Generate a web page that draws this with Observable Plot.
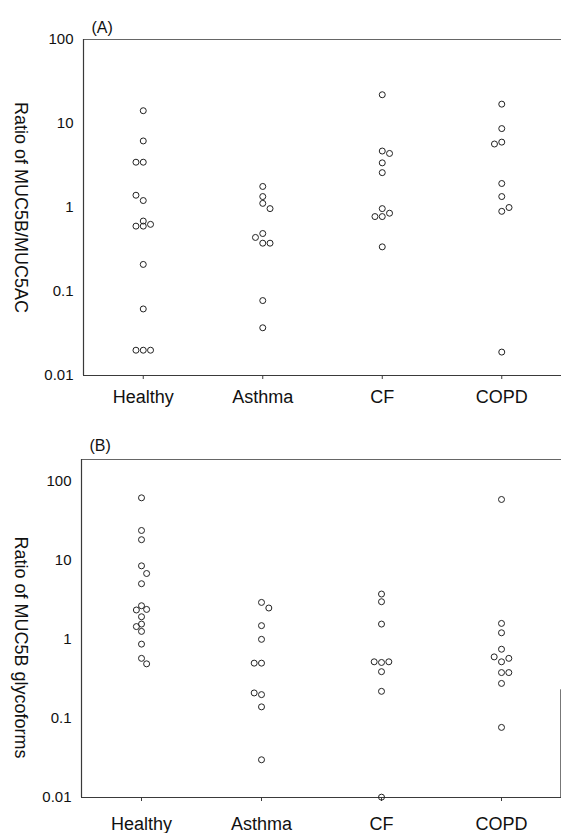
<!DOCTYPE html>
<html>
<head>
<meta charset="utf-8">
<script src="https://cdn.jsdelivr.net/npm/d3@7"></script>
<script src="https://cdn.jsdelivr.net/npm/@observablehq/plot@0.6"></script>
<style>
  html, body { margin: 0; padding: 0; background: #fff; }
  #chart svg { display: block; }
</style>
</head>
<body>
<div id="chart"></div>
<script>
// Categories and tick labels
const categories = ["Healthy", "Asthma", "CF", "COPD"];
const yTicks = [0.01, 0.1, 1, 10, 100];
const yTickLabels = ["0.01", "0.1", "1", "10", "100"];
const titleA = "Ratio of MUC5B/MUC5AC";
const titleB = "Ratio of MUC5B glycoforms";
const panelA = "(A)";
const panelB = "(B)";

// Panel A values (ratio MUC5B/MUC5AC) and horizontal dodge slots
const aHealthy     = [14.2, 6.2, 3.46, 3.46, 1.4, 1.21, 0.69, 0.6, 0.6, 0.63, 0.21, 0.062, 0.02, 0.02, 0.02];
const aHealthySlot = [0, 0, -1, 0, -1, 0, 0, -1, 0, 1, 0, 0, -1, 0, 1];
const aAsthma      = [1.78, 1.35, 1.12, 0.97, 0.44, 0.49, 0.376, 0.376, 0.078, 0.037];
const aAsthmaSlot  = [0, 0, 0, 1, -1, 0, 0, 1, 0, 0];
const aCF          = [22, 4.7, 4.4, 3.4, 2.6, 0.97, 0.78, 0.78, 0.855, 0.34];
const aCFSlot      = [0, 0, 1, 0, 0, 0, -1, 0, 1, 0];
const aCOPD        = [17, 8.7, 6.0, 5.7, 1.93, 1.35, 0.9, 1.0, 0.019];
const aCOPDSlot    = [0, 0, 0, -1, 0, 0, 0, 1, 0];

// Panel B values (ratio of MUC5B glycoforms)
const bHealthy     = [61.6, 23.8, 18.2, 8.5, 6.8, 5.05, 2.66, 2.35, 2.39, 1.93, 1.45, 1.56, 1.26, 0.87, 0.575, 0.49];
const bHealthySlot = [0, 0, 0, 0, 0.7, 0, 0, -0.7, 0.7, 0, -0.7, 0, 0, 0, 0, 0.7];
const bAsthma      = [2.93, 2.49, 1.49, 1.0, 0.5, 0.5, 0.21, 0.20, 0.14, 0.03];
const bAsthmaSlot  = [0, 1, 0, 0, -1, 0, -1, 0, 0, 0];
const bCF          = [3.74, 2.99, 1.56, 0.52, 0.51, 0.52, 0.39, 0.22, 0.0101];
const bCFSlot      = [0, 0, 0, -1, 0, 1, 0, 0, 0];
const bCOPD        = [58.7, 1.59, 1.21, 0.75, 0.60, 0.52, 0.575, 0.38, 0.38, 0.277, 0.077];
const bCOPDSlot    = [0, 0, 0, 0, -1, 0, 1, 0, 1, 0, 0];

function rows(groups) {
  const out = [];
  groups.forEach(([vals, slots], ci) => {
    vals.forEach((v, i) => out.push({cat: ci, slot: slots[i], value: v}));
  });
  return out;
}
const dataA = rows([[aHealthy, aHealthySlot], [aAsthma, aAsthmaSlot], [aCF, aCFSlot], [aCOPD, aCOPDSlot]]);
const dataB = rows([[bHealthy, bHealthySlot], [bAsthma, bAsthmaSlot], [bCF, bCFSlot], [bCOPD, bCOPDSlot]]);

const SLOT = 0.061;
const FONT = "'Liberation Sans', Arial, Helvetica, sans-serif";
const INK = "#111";
const LINE = "#3a3a3a";

function panel({data, yMax, height, marginLeft, marginBottom, xPad, title, titleDx, titleDy, label, labelDy, rightEdgeTo}) {
  const xDomain = [-0.5, categories.length - 0.5];
  const marks = [
    Plot.ruleY([0.01], {stroke: LINE, strokeWidth: 1.2}),
    Plot.ruleY([yMax], {stroke: "#666", strokeWidth: 1}),
    Plot.ruleX([xDomain[0]], {stroke: LINE, strokeWidth: 1.2}),
  ];
  if (rightEdgeTo) {
    marks.push(Plot.ruleX([xDomain[1]], {y1: 0.01, y2: rightEdgeTo, stroke: "#777", strokeWidth: 1, dx: -1}));
  }
  marks.push(
    Plot.axisY({ticks: yTicks, tickFormat: d => yTickLabels[yTicks.indexOf(d)], tickSize: 0, tickPadding: 10, fontSize: 15, label: null}),
    Plot.axisX({ticks: [0, 1, 2, 3], tickFormat: d => categories[d], tickSize: 4, tickPadding: xPad, fontSize: 18, label: null, stroke: LINE}),
    Plot.dot(data, {x: d => d.cat + d.slot * SLOT, y: "value", r: 3, stroke: "#222", strokeWidth: 1, fill: "none"}),
    Plot.text([title], {frameAnchor: "left", textAnchor: "middle", lineAnchor: "middle", rotate: 90, dx: titleDx, dy: titleDy, fontSize: 18, fill: INK}),
    Plot.text([label], {frameAnchor: "top-left", textAnchor: "start", lineAnchor: "middle", dx: 8, dy: labelDy, fontSize: 16, fill: INK})
  );
  return Plot.plot({
    width: 561,
    height,
    marginTop: 39,
    marginBottom,
    marginLeft,
    marginRight: 0,
    style: {fontFamily: FONT, color: INK, background: "#fff", overflow: "visible"},
    x: {type: "linear", domain: xDomain, axis: null},
    y: {type: "log", domain: [0.01, yMax], axis: null},
    marks
  });
}

const chart = document.getElementById("chart");
chart.appendChild(panel({
  data: dataA, yMax: 100, height: 420, marginLeft: 83, marginBottom: 45, xPad: 11,
  title: titleA, titleDx: -62.5, titleDy: 0, label: panelA, labelDy: -12
}));
chart.appendChild(panel({
  data: dataB, yMax: 188, height: 413, marginLeft: 81, marginBottom: 36, xPad: 15.5,
  title: titleB, titleDx: -60.5, titleDy: 19, label: panelB, labelDy: -14, rightEdgeTo: 0.23
}));
</script>
</body>
</html>
